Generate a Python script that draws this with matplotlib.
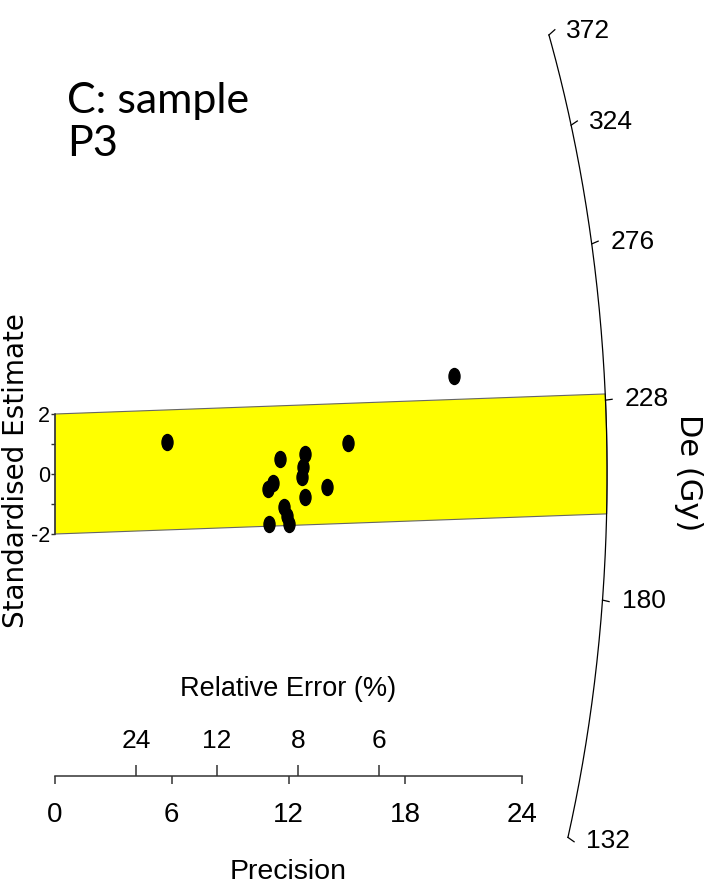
# %%
import matplotlib.pyplot as plt
import numpy as np
from matplotlib.path import Path
from matplotlib.transforms import Affine2D

# %% Values.
precision = [5.77, 11.58, 12.86, 12.76, 12.69, 11.22, 10.93, 13.99,
             12.86, 11.77, 11.92, 12.02, 11.00, 15.07, 20.50]
std_estimate = [1.08, 0.49, 0.67, 0.24, -0.09, -0.29, -0.51, -0.42,
                -0.78, -1.09, -1.40, -1.67, -1.68, 1.02, 3.27]

de_reference = 209.0  # De at standardised estimate 0
de_central = 214.0    # centre of the +/-2 band
de_ticks = [132, 180, 228, 276, 324, 372]
precision_ticks = [0, 6, 12, 18, 24]
rel_error_ticks = [24, 12, 8, 6]
z_ticks = [-2, -1, 0, 1, 2]
z_labels = ["-2", "", "0", "", "2"]

# %% Layout of the radial plot.
ARC_R = 28.37
ARC_C = np.sqrt(0.75)
AXIS_Y = -10.07
SANS = ["Liberation Sans", "DejaVu Sans"]
WIDE = ["DejaVu Sans"]
AX_COLOR = "#333333"

plt.rcParams["font.family"] = SANS
plt.rcParams["axes.unicode_minus"] = False

z0 = np.log(de_reference)


def arc_point(slope, scale=1.0):
    slope = np.asarray(slope, dtype=float)
    x = ARC_R * scale / np.sqrt(1 + ARC_C**2 * slope**2)
    return x, slope * x


def line_hits_arc(k, b):
    a2 = 1 + ARC_C**2 * b**2
    a1 = 2 * ARC_C**2 * k * b
    a0 = ARC_C**2 * k**2 - ARC_R**2
    x = (-a1 + np.sqrt(a1**2 - 4 * a2 * a0)) / (2 * a2)
    return x, k + b * x


fig = plt.figure(figsize=(7.07, 8.92), dpi=100)
ax = fig.add_axes([0, 0, 1, 1])
ax.set_xlim(-2.826, 33.505)
ax.set_ylim(-13.933, 15.8)

# %% The +/-2 band around the central value.
b = np.log(de_central) - z0
xt, yt = line_hits_arc(2, b)
xb, yb = line_hits_arc(-2, b)
ex, ey = arc_point(np.linspace(yt / xt, yb / xb, 60))
band_x = np.concatenate([[0, xt], ex, [xb, 0]])
band_y = np.concatenate([[2, yt], ey, [yb, -2]])
ax.fill(band_x, band_y, facecolor="#ffff00", edgecolor="#666666", lw=0.8, zorder=1)

# %% The De arc with its ticks.
s_arc = np.linspace(np.log(de_ticks[0]) - z0, np.log(de_ticks[-1]) - z0, 200)
ax_x, ax_y = arc_point(s_arc)
ax.plot(ax_x, ax_y, color="black", lw=0.9, zorder=2)
for de in de_ticks:
    s = np.log(de) - z0
    x1, y1 = arc_point(s)
    x2, y2 = arc_point(s, 1.012)
    ax.plot([x1, x2], [y1, y2], color="black", lw=0.9)
    lx, _ = arc_point(s, 1.035)
    _, ly = arc_point(s, 1.01)
    ax.text(lx, ly, str(de), ha="left", va="center", fontsize=19)

# %% The data points.
dot = Path.unit_circle().transformed(Affine2D().scale(0.69, 1.0))
ax.plot(precision, std_estimate, ls="none", marker=dot, ms=11.5,
        color="black", zorder=3)

# %% Axes: standardised estimate on the left, precision below.
for side in ["top", "right"]:
    ax.spines[side].set_visible(False)
ax.spines["left"].set_position(("data", 0))
ax.spines["left"].set_bounds(-2, 2)
ax.spines["bottom"].set_position(("data", AXIS_Y))
ax.spines["bottom"].set_bounds(0, 24)
for side in ["left", "bottom"]:
    ax.spines[side].set_color(AX_COLOR)
    ax.spines[side].set_linewidth(1.1)

ax.set_yticks(z_ticks, labels=z_labels)
ax.set_xticks(precision_ticks, labels=[str(p) for p in precision_ticks])
ax.tick_params(axis="y", direction="out", length=3.2, width=1.0, pad=0.3,
               labelsize=15.5, color=AX_COLOR)
ax.tick_params(axis="x", direction="out", length=5.8, width=1.1, pad=13,
               labelsize=20, color=AX_COLOR)

# Relative error scale sits on the same line, ticks pointing up.
re_pos = [100 / r for r in rel_error_ticks]
ax.plot(re_pos, [AXIS_Y] * len(re_pos), ls="none", marker=2, ms=8,
        mew=1.1, color=AX_COLOR, clip_on=False)
for r, p in zip(rel_error_ticks, re_pos):
    ax.annotate(str(r), xy=(p, AXIS_Y), xytext=(0, 25), textcoords="offset points",
                ha="center", va="center", fontsize=19)

ax.annotate("Relative Error (%)", xy=(12, AXIS_Y), xytext=(0, 63),
            textcoords="offset points", ha="center", va="center", fontsize=19.5)
ax.annotate("Precision", xy=(12, AXIS_Y), xytext=(0, -69),
            textcoords="offset points", ha="center", va="center", fontsize=20.5)

ax.text(-2.00, 0.13, "Standardised Estimate", rotation=90, ha="center",
        va="center", fontsize=20, family=WIDE)
ax.text(32.53, 0.03, "De (Gy)", rotation=-90, ha="center", va="center",
        fontsize=22, family=WIDE)

fig.text(0.095, 0.908, "C: sample\nP3", ha="left", va="top", fontsize=31,
         family=["Lato", "DejaVu Sans"], linespacing=1.15)

# %% Save the figure
plt.savefig("out.png", dpi=100)
